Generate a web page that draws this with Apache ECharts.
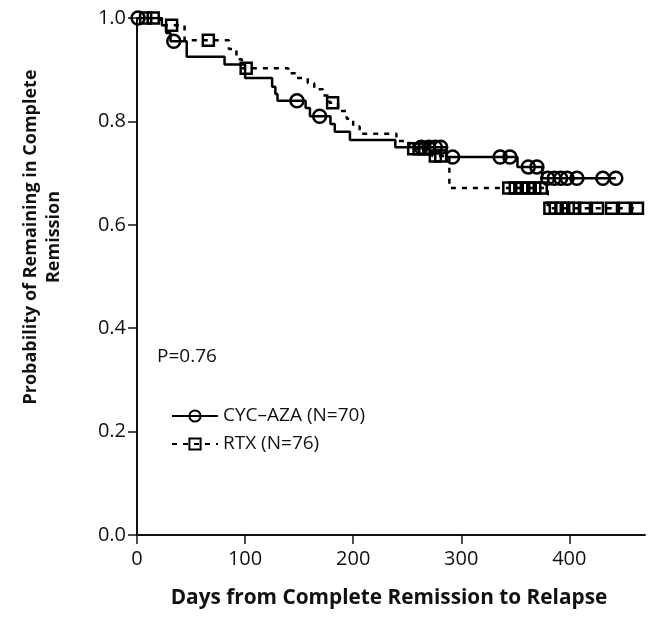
<!DOCTYPE html>
<html>
<head>
  <meta charset="utf-8" />
  <title>Relapse-free survival</title>
  <script src="https://cdn.jsdelivr.net/npm/echarts@6/dist/echarts.min.js"></script>
  <style>
    html, body { margin: 0; padding: 0; background: #fff; }
    #main { width: 652px; height: 617px; }
  </style>
</head>
<body>
<div id="main"></div>
<script>
  // Kaplan-Meier steps: day of drop, survival after it
  var cycName = 'CYC\u2013AZA (N=70)';
  var cycEventDays = [0, 23, 27, 31, 46, 81, 100, 125, 128, 130, 156, 160, 179, 183, 197, 239, 286, 352, 375];
  var cycSurvival = [1.0, 0.986, 0.971, 0.955, 0.925, 0.91, 0.884, 0.867, 0.853, 0.84, 0.826, 0.81, 0.795, 0.78, 0.764, 0.75, 0.731, 0.712, 0.69];
  var cycCensorDays = [1, 34, 148, 169, 263, 270, 276, 281, 292, 336, 345, 362, 370, 380, 386, 392, 398, 407, 431, 443];

  var rtxName = 'RTX (N=76)';
  var rtxEventDays = [0, 22, 44, 85, 92, 97, 140, 148, 158, 164, 172, 178, 186, 194, 200, 206, 240, 252, 273, 289, 380];
  var rtxSurvival = [1.0, 0.986, 0.957, 0.94, 0.92, 0.903, 0.893, 0.884, 0.874, 0.862, 0.85, 0.836, 0.82, 0.805, 0.79, 0.776, 0.762, 0.747, 0.733, 0.671, 0.632];
  var rtxCensorDays = [8, 15, 32, 66, 101, 181, 256, 261, 266, 270, 276, 281, 344, 350, 356, 362, 368, 374, 382, 387, 393, 399, 405, 414, 426, 439, 451, 463];

  var xTicks = [0, 100, 200, 300, 400];
  var pValueText = 'P=0.76';

  // merge drops and censor marks into one step line; only censor points get a symbol
  function buildCurve(days, surv, censors) {
    var pts = [];
    for (var i = 0; i < days.length; i++) {
      pts.push({ value: [days[i], surv[i]], symbol: 'none', k: 0 });
    }
    for (var j = 0; j < censors.length; j++) {
      var s = 1;
      for (var m = 0; m < days.length; m++) {
        if (days[m] <= censors[j]) s = surv[m];
      }
      pts.push({ value: [censors[j], s], k: 1 });
    }
    pts.sort(function (a, b) { return a.value[0] - b.value[0] || a.k - b.k; });
    return pts.map(function (p) {
      var d = { value: p.value };
      if (p.symbol) d.symbol = p.symbol;
      return d;
    });
  }

  var font = '"Open Sans", "Noto Sans", sans-serif';
  var ink = '#111';

  var chart = echarts.init(document.getElementById('main'));
  chart.setOption({
    animation: false,
    backgroundColor: '#fff',
    grid: { left: 137, right: 7, top: 18, bottom: 82 },
    xAxis: {
      type: 'value',
      min: 0,
      max: 470,
      interval: 100,
      axisLine: { lineStyle: { color: ink, width: 2 } },
      axisTick: { length: 9, lineStyle: { color: ink, width: 1.5 }, customValues: xTicks },
      axisLabel: { customValues: xTicks, margin: 14, color: ink, fontSize: 20, fontFamily: font },
      splitLine: { show: false }
    },
    yAxis: {
      type: 'value',
      min: 0,
      max: 1,
      interval: 0.2,
      axisLine: { show: true, lineStyle: { color: ink, width: 2 } },
      axisTick: { show: true, length: 9, lineStyle: { color: ink, width: 1.5 } },
      axisLabel: {
        margin: 11, color: ink, fontSize: 20, fontFamily: font,
        formatter: function (v) { return v.toFixed(1); }
      },
      splitLine: { show: false }
    },
    legend: {
      orient: 'vertical',
      left: 166,
      top: 401,
      itemWidth: 46,
      itemHeight: 14,
      itemGap: 8,
      textStyle: { color: ink, fontSize: 19, fontFamily: font, lineHeight: 20 },
      data: [cycName, rtxName]
    },
    graphic: [
      {
        type: 'text', left: 157, top: 347,
        style: { text: pValueText, fill: ink, font: '19px ' + font }
      },
      {
        type: 'text', x: 42, y: 237, rotation: Math.PI / 2,
        style: {
          text: 'Probability of Remaining in Complete\nRemission',
          fill: ink, font: 'bold 18px ' + font,
          align: 'center', verticalAlign: 'middle', lineHeight: 23
        }
      },
      {
        type: 'text', x: 389, y: 598,
        style: {
          text: 'Days from Complete Remission to Relapse',
          fill: ink, font: 'bold 20.8px ' + font,
          align: 'center', verticalAlign: 'middle'
        }
      }
    ],
    series: [
      {
        name: cycName,
        type: 'line',
        step: 'end',
        showAllSymbol: true,
        symbol: 'circle',
        symbolSize: 13,
        lineStyle: { color: '#000', width: 2.5 },
        itemStyle: { color: 'rgba(255,255,255,0)', borderColor: '#000', borderWidth: 2.5 },
        data: buildCurve(cycEventDays, cycSurvival, cycCensorDays)
      },
      {
        name: rtxName,
        type: 'line',
        step: 'end',
        showAllSymbol: true,
        symbol: 'rect',
        symbolSize: 11,
        lineStyle: { color: '#000', width: 2.5, type: [5, 6] },
        itemStyle: { color: 'rgba(255,255,255,0)', borderColor: '#000', borderWidth: 2.5 },
        data: buildCurve(rtxEventDays, rtxSurvival, rtxCensorDays)
      }
    ]
  });
</script>
</body>
</html>
